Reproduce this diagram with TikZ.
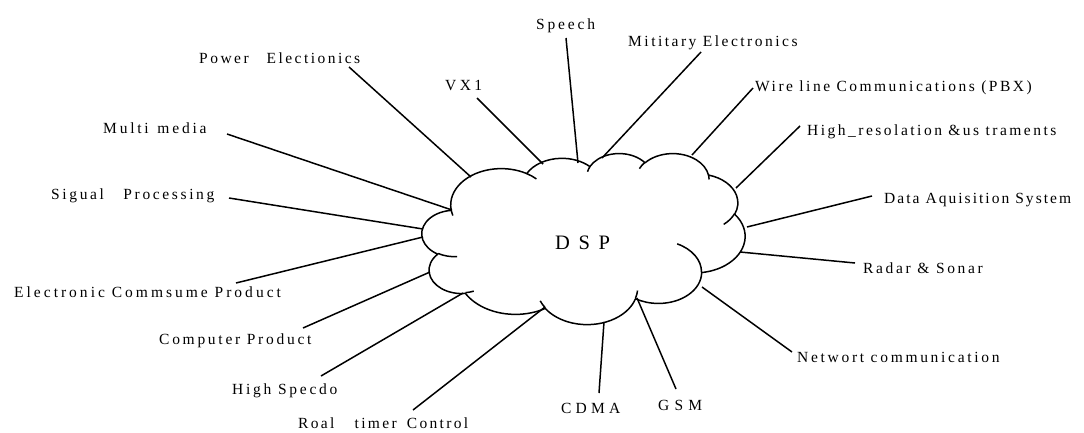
\documentclass[tikz,border=0pt]{standalone}
\usepackage{fontspec}
\setmainfont{Liberation Serif}
\newcommand\lsp[2]{{\addfontfeatures{LetterSpace=#1}#2}}
% visual (OOXML) angle -> parametric arc
\newcommand\mkarc[5]{%
  \pgfmathsetmacro\tmpA{atan2(sin(#4)*#2,cos(#4)*#3)}%
  \pgfmathsetmacro\tmpB{atan2(sin(#4+#5)*#2,cos(#4+#5)*#3)}%
  \pgfmathsetmacro\tmpD{mod(\tmpB-\tmpA+720,360)}%
  \expandafter\edef\csname cloudarc#1\endcsname{arc[start angle=\tmpA,delta angle=\tmpD,x radius=#2,y radius=#3]}}
\tikzset{
  lbl/.style={anchor=base west, inner sep=0pt, font=\fontsize{15.5}{18}\selectfont},
  big/.style={anchor=base west, inner sep=0pt, font=\fontsize{20.5}{24}\selectfont},
  conn/.style={line width=1.5pt, black},
  cloudline/.style={line width=1.5pt, black, line join=round}
}
\begin{document}
\begin{tikzpicture}[x=1pt,y=-1pt]
\useasboundingbox (0,0) rectangle (1084,432);
\fill[white] (0,0) rectangle (1084,432);
% outer cloud arcs
\mkarc{A}{67.53}{91.90}{-190.48748}{123.78053}
\mkarc{B}{53.33}{72.67}{-144.10238}{89.94523}
\mkarc{C}{43.65}{59.45}{-145.80792}{99.72302}
\mkarc{D}{48.57}{65.95}{-130.98607}{117.24173}
\mkarc{E}{53.33}{72.73}{-78.70888}{109.02692}
\mkarc{F}{67.75}{92.20}{-46.26725}{130.269}
\mkarc{G}{57.85}{78.67}{0.62502}{114.03333}
\mkarc{H}{67.52}{92.15}{22.4516}{115.17255}
\mkarc{I}{77.20}{105.43}{66.24263}{75.71102}
\mkarc{J}{43.60}{59.18}{-274.94208}{146.73557}
\mkarc{K}{43.45}{59.45}{-246.8285}{152.51885}
% inner hooks
\mkarc{a}{43.45}{59.45}{86.742}{26.4295}
\mkarc{b}{43.60}{59.18}{73.61047}{11.44747}
\mkarc{c}{67.52}{92.15}{137.62415}{14.0811}
\mkarc{d}{67.52}{92.15}{6.45327}{15.99835}
\mkarc{e}{57.85}{78.67}{-70.29235}{70.91737}
\mkarc{f}{53.33}{72.73}{30.31803}{27.7515}
\mkarc{g}{48.57}{65.95}{-13.74433}{14.8589}
\mkarc{h}{48.57}{65.95}{-149.18145}{18.19537}
\mkarc{i}{43.65}{59.45}{-163.49427}{17.68635}
\mkarc{j}{67.53}{91.90}{-66.70695}{12.31935}
\mkarc{k}{67.53}{91.90}{157.65435}{11.85817}
\begin{scope}[shift={(422,153)}, xscale=0.74769, yscale=0.39583]
\draw[cloudline, fill=white] (39,143.7) \cloudarcA \cloudarcB \cloudarcC \cloudarcD \cloudarcE \cloudarcF \cloudarcG \cloudarcH \cloudarcI \cloudarcJ \cloudarcK -- cycle;
\draw[cloudline] (46.93,261.77) \cloudarca (69.28,348.99) \cloudarcb (164.78,390.90) \cloudarcc (288.27,347.51) \cloudarcd (341.29,229.54) \cloudarce (417.98,153.54) \cloudarcf (383.24,54.26) \cloudarcg (290.78,39.52) \cloudarch (221.41,47.20) \cloudarci (140.00,51.92) \cloudarcj (41.27,157.89) \cloudarck;
\end{scope}
\node[big] (dsp) at (555,249) {\lsp{42}{DSP}};
% labels
\node[lbl] (power) at (199,63) {\lsp{16}{Power \hspace{11.5pt}Electionics}};
\node[lbl] (multi) at (103,133) {\lsp{18}{Multi \hspace{2pt}media}};
\node[lbl] (sigual) at (51,199) {\lsp{17}{Sigual \hspace{13pt}Processing}};
\node[lbl] (econs) at (14,297) {\lsp{19.4}{Electronic Commsume Product}};
\node[lbl] (comp) at (159,344) {\lsp{17.6}{Computer Product}};
\node[lbl] (hspd) at (232,394) {\lsp{17.7}{High Specdo}};
\node[lbl] (roal) at (298,428) {\lsp{15}{Roal \hspace{14pt}timer \hspace{4pt}Control}};
\node[lbl] (cdma) at (561,413) {\lsp{27}{CDMA}};
\node[lbl] (gsm) at (658,410) {\lsp{33.5}{GSM}};
\node[lbl] (netw) at (797,362) {\lsp{17.4}{Networt communication}};
\node[lbl] (radar) at (863,273) {\lsp{17.2}{Radar \& Sonar}};
\node[lbl] (data) at (884,203) {\lsp{13.2}{Data Aquisition System}};
\node[lbl] (hres) at (807,135) {\lsp{16.1}{High\_resolation \&us traments}};
\node[lbl] (wire) at (755,91) {\lsp{16.1}{Wire line Communications (PBX)}};
\node[lbl] (mil) at (628,46) {\lsp{16.1}{Mititary Electronics}};
\node[lbl] (speech) at (536,29) {\lsp{18.3}{Speech}};
\node[lbl] (vx) at (445,90) {\lsp{22}{VX1}};
% connector ends
\coordinate (power-a) at (349,67);  \coordinate (power-b) at (471,177);
\coordinate (multi-a) at (227,134); \coordinate (multi-b) at (452,210);
\coordinate (sigual-a) at (229,198); \coordinate (sigual-b) at (423,229);
\coordinate (econs-a) at (236,283); \coordinate (econs-b) at (423,237);
\coordinate (comp-a) at (303,328); \coordinate (comp-b) at (430,272);
\coordinate (hspd-a) at (321,376); \coordinate (hspd-b) at (463,293);
\coordinate (roal-a) at (413,410); \coordinate (roal-b) at (545,307);
\coordinate (cdma-a) at (599,393); \coordinate (cdma-b) at (604,322);
\coordinate (gsm-a) at (676,389); \coordinate (gsm-b) at (637,298);
\coordinate (netw-a) at (792,352); \coordinate (netw-b) at (702,287);
\coordinate (radar-a) at (855,263); \coordinate (radar-b) at (740,252);
\coordinate (data-a) at (872,196); \coordinate (data-b) at (747,227);
\coordinate (hres-a) at (800,126); \coordinate (hres-b) at (736,188);
\coordinate (wire-a) at (753,88); \coordinate (wire-b) at (692,155);
\coordinate (mil-a) at (701,52); \coordinate (mil-b) at (602,158);
\coordinate (speech-a) at (566,38); \coordinate (speech-b) at (578,163);
\coordinate (vx-a) at (477,98); \coordinate (vx-b) at (543,164);
\foreach \n in {power,multi,sigual,econs,comp,hspd,roal,cdma,gsm,netw,radar,data,hres,wire,mil,speech,vx}
  \draw[conn] (\n-a) -- (\n-b);
\end{tikzpicture}
\end{document}
